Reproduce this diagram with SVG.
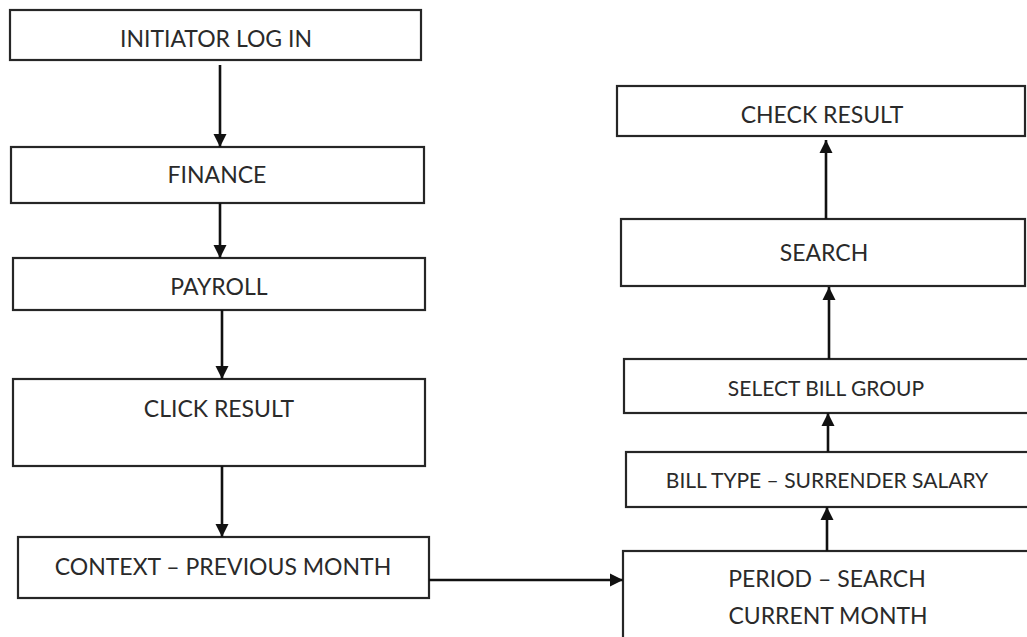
<svg xmlns="http://www.w3.org/2000/svg" width="1027" height="637" viewBox="0 0 1027 637">
  <style>
    .box { fill: #ffffff; stroke: #262626; stroke-width: 2.2; }
    .label { font-family: Lato, "Open Sans", "Liberation Sans", sans-serif; font-size: 23px; fill: #2a2a2a; text-anchor: middle; }
    .small { font-size: 21px; }
    .conn { fill: none; stroke: #111111; stroke-width: 2.6; marker-end: url(#arrow); }
  </style>
  <defs>
    <marker id="arrow" markerUnits="userSpaceOnUse" markerWidth="14" markerHeight="14" viewBox="0 0 14 14" refX="13" refY="7" orient="auto">
      <path d="M0,0.5 L13,7 L0,13.5 Z" fill="#111111"/>
    </marker>
  </defs>
  <rect x="0" y="0" width="1027" height="637" fill="#ffffff"/>

  <!-- left column -->
  <g id="initiator-log-in">
    <rect class="box" x="10" y="10" width="411" height="50"/>
    <text class="label" x="216" y="47">INITIATOR LOG IN</text>
  </g>
  <g id="finance">
    <rect class="box" x="11" y="147" width="413" height="56"/>
    <text class="label" x="217" y="183">FINANCE</text>
  </g>
  <g id="payroll">
    <rect class="box" x="13" y="258" width="412" height="52"/>
    <text class="label" x="219" y="295">PAYROLL</text>
  </g>
  <g id="click-result">
    <rect class="box" x="13" y="379" width="412" height="87"/>
    <text class="label" x="219" y="417">CLICK RESULT</text>
  </g>
  <g id="context-previous-month">
    <rect class="box" x="18" y="537" width="411" height="61"/>
    <text class="label" x="223" y="575">CONTEXT – PREVIOUS MONTH</text>
  </g>

  <!-- right column -->
  <g id="check-result">
    <rect class="box" x="617" y="86" width="408" height="50"/>
    <text class="label" x="822" y="123">CHECK RESULT</text>
  </g>
  <g id="search">
    <rect class="box" x="621" y="219" width="404" height="67"/>
    <text class="label" x="824" y="261">SEARCH</text>
  </g>
  <g id="select-bill-group">
    <rect class="box" x="624" y="359" width="406" height="54"/>
    <text class="label small" x="826" y="396">SELECT BILL GROUP</text>
  </g>
  <g id="bill-type">
    <rect class="box" x="626" y="452" width="404" height="55"/>
    <text class="label small" x="827" y="488">BILL TYPE – SURRENDER SALARY</text>
  </g>
  <g id="period-search">
    <rect class="box" x="623" y="551" width="410" height="95"/>
    <text class="label" x="827" y="587">PERIOD – SEARCH</text>
    <text class="label" x="828" y="624">CURRENT MONTH</text>
  </g>

  <!-- connectors -->
  <g id="connectors">
    <path class="conn" d="M220,65 L220,147"/>
    <path class="conn" d="M220,203 L220,258"/>
    <path class="conn" d="M222,310 L222,379"/>
    <path class="conn" d="M222,466 L222,537"/>
    <path class="conn" d="M429,580 L623,580"/>
    <path class="conn" d="M827,551 L827,507"/>
    <path class="conn" d="M828,452 L828,413"/>
    <path class="conn" d="M829,359 L829,287"/>
    <path class="conn" d="M826,219 L826,140"/>
  </g>
</svg>
